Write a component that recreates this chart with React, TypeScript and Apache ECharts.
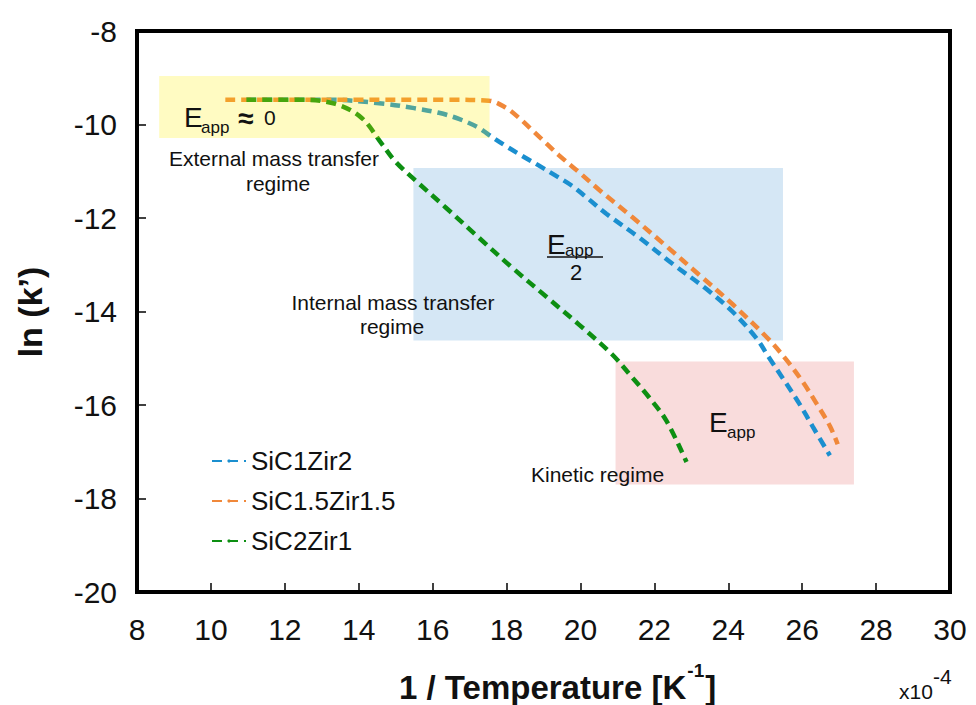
import React, { useEffect, useRef } from "react";
import * as echarts from "echarts";

const seriesNames = ["SiC1Zir2", "SiC1.5Zir1.5", "SiC2Zir1"];
const seriesColors = ["#1b8fcf", "#f0883a", "#0d8f12"];

const sic1X = [10.96, 13.18, 14.62, 15.5, 16.17, 16.71, 17.25, 17.52, 17.98, 18.42, 18.88, 19.34, 19.77, 20.15, 20.7, 21.59, 22.49, 23.41, 24.11, 24.77, 25.08, 25.47, 25.93, 26.29, 26.75];
const sic1Y = [-9.47, -9.47, -9.55, -9.65, -9.75, -9.88, -10.07, -10.22, -10.46, -10.67, -10.88, -11.1, -11.31, -11.55, -11.91, -12.42, -12.98, -13.52, -14.0, -14.58, -14.96, -15.42, -15.98, -16.47, -17.08];

const sic15X = [10.39, 13.72, 16.36, 17.52, 17.98, 18.34, 18.69, 19.07, 19.42, 19.96, 20.51, 21.4, 22.32, 23.22, 24.11, 25.04, 25.58, 26.01, 26.39, 26.75, 26.96];
const sic15Y = [-9.47, -9.47, -9.47, -9.49, -9.64, -9.86, -10.12, -10.4, -10.66, -11.02, -11.4, -11.98, -12.6, -13.22, -13.84, -14.55, -15.04, -15.5, -15.97, -16.45, -16.84];

const sic2X = [10.96, 12.37, 13.37, 14.08, 14.62, 15.0, 15.54, 16.36, 17.25, 18.15, 19.07, 19.96, 20.86, 21.4, 21.86, 22.32, 22.87];
const sic2Y = [-9.47, -9.47, -9.56, -9.86, -10.41, -10.8, -11.2, -11.78, -12.42, -13.06, -13.68, -14.28, -14.92, -15.41, -15.84, -16.33, -17.22];

// regime boxes: [x1, y1, x2, y2]
const externalBox = [8.6, -8.96, 17.54, -10.29];
const internalBox = [15.48, -10.93, 25.48, -14.62];
const kineticBox = [20.95, -15.07, 27.4, -17.7];

const FONT = "Liberation Sans, Arial, sans-serif";

function zip(xs: number[], ys: number[]) {
  return xs.map((x, i) => [x, ys[i]]);
}

function boxPair(b: number[], color: string) {
  return [{ coord: [b[0], b[1]], itemStyle: { color } }, { coord: [b[2], b[3]] }];
}

function txt(text: string, x: number, y: number, size: number, extra: any = {}) {
  return {
    type: "text",
    x,
    y,
    z: 100,
    style: {
      text,
      fontSize: size,
      fontFamily: FONT,
      fill: "#111",
      verticalAlign: "middle",
      ...extra,
    },
  };
}

function measure(text: string, font: string) {
  const c = document.createElement("canvas").getContext("2d");
  if (!c) return text.length * 15;
  c.font = font;
  return c.measureText(text).width;
}

export default function App() {
  const ref = useRef<HTMLDivElement>(null);
  useEffect(() => {
    if (!ref.current) return;
    const chart = echarts.init(ref.current, undefined, { renderer: "svg" });
    const lineData = [zip(sic1X, sic1Y), zip(sic15X, sic15Y), zip(sic2X, sic2Y)];
    const series: any[] = lineData.map((d, i) => ({
      name: seriesNames[i],
      type: "line",
      data: d,
      symbol: "none",
      smooth: 0.35,
      z: 3,
      lineStyle: { color: seriesColors[i], width: 4.5, type: [10, 6], cap: "butt" },
      itemStyle: { color: seriesColors[i] },
    }));
    series.push({
      type: "line",
      data: [],
      z: 1,
      silent: true,
      markArea: {
        silent: true,
        z: 1,
        data: [boxPair(internalBox, "#d5e7f5"), boxPair(kineticBox, "#f9dcdc")],
      },
    });
    series.push({
      type: "line",
      data: [],
      z: 10,
      silent: true,
      markArea: {
        silent: true,
        z: 10,
        data: [boxPair(externalBox, "rgba(255,238,0,0.24)")],
      },
    });

    const titleMain = "1 / Temperature [K";
    const titleSize = 33;
    const titleX = 399;
    const mainW = measure(titleMain, `bold ${titleSize}px ${FONT}`);
    const supW = measure("-1", `bold 19px ${FONT}`);

    chart.setOption({
      animation: false,
      backgroundColor: "#fff",
      grid: {
        left: 137,
        right: 26,
        top: 31,
        bottom: 113,
        show: true,
        borderColor: "#000",
        borderWidth: 4,
        backgroundColor: "transparent",
      },
      legend: {
        data: seriesNames,
        orient: "vertical",
        left: 206,
        top: 443,
        itemWidth: 34,
        itemHeight: 4,
        itemGap: 14,
        textStyle: { fontSize: 26, fontFamily: FONT, color: "#111" },
      },
      xAxis: {
        type: "value",
        min: 8,
        max: 30,
        interval: 2,
        axisLine: { show: false },
        axisTick: { show: true, inside: true, length: 9, lineStyle: { color: "#000", width: 1.5 } },
        splitLine: { show: false },
        axisLabel: { fontSize: 30, fontFamily: FONT, color: "#111", margin: 22 },
      },
      yAxis: {
        type: "value",
        min: -20,
        max: -8,
        interval: 2,
        axisLine: { show: false },
        axisTick: { show: true, inside: true, length: 9, lineStyle: { color: "#000", width: 1.5 } },
        splitLine: { show: false },
        axisLabel: { fontSize: 30, fontFamily: FONT, color: "#111", margin: 20 },
      },
      series,
      graphic: [
        {
          type: "text",
          x: 30,
          y: 312,
          rotation: Math.PI / 2,
          style: {
            text: "ln (k’)",
            fontSize: 34,
            fontWeight: "bold",
            fontFamily: FONT,
            fill: "#111",
            align: "center",
            verticalAlign: "middle",
          },
        },
        txt(titleMain, titleX, 687, titleSize, { fontWeight: "bold" }),
        txt("-1", titleX + mainW + 1, 670, 19, { fontWeight: "bold" }),
        txt("]", titleX + mainW + supW + 2, 687, titleSize, { fontWeight: "bold" }),
        txt("x10", 899, 691, 21),
        txt("-4", 933, 676, 21),
        // external
        txt("E", 184, 117, 28),
        txt("app", 201, 127, 17),
        txt("≈", 238, 118, 28, { fontWeight: "bold" }),
        txt("0", 264, 117, 21),
        txt("External mass transfer", 274, 158, 21, { align: "center" }),
        txt("regime", 278, 183, 21, { align: "center" }),
        // internal
        txt("E", 547, 244, 28),
        txt("app", 565, 250, 17),
        { type: "line", z: 100, shape: { x1: 547, y1: 257, x2: 603, y2: 257 }, style: { stroke: "#111", lineWidth: 1.5 } },
        txt("2", 576, 272, 22, { align: "center" }),
        txt("Internal mass transfer", 393, 302, 21, { align: "center" }),
        txt("regime", 392, 326, 21, { align: "center" }),
        // kinetic
        txt("E", 709, 422, 28),
        txt("app", 727, 432, 17),
        txt("Kinetic regime", 531, 474, 21),
      ],
    });
    return () => chart.dispose();
  }, []);
  return <div ref={ref} style={{ position: "fixed", left: 0, top: 0, width: 976, height: 705 }} />;
}
